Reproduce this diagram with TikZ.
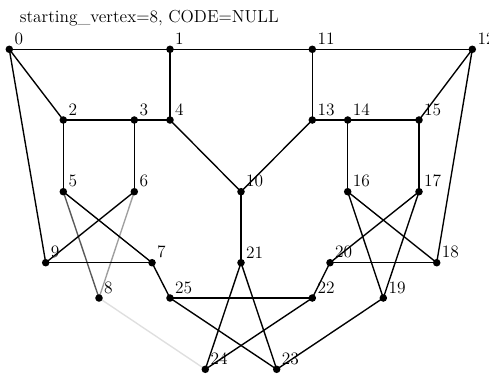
\documentclass[tikz,border=0pt]{standalone}
\begin{document}
\begin{tikzpicture}[x=0.69pt,y=-0.69pt,
  vtx/.style={circle,fill=black,inner sep=0pt,minimum size=5.2pt},
  lbl/.style={anchor=south west,inner sep=0pt,xshift=3.4pt,yshift=3pt,font=\large},
  edge/.style={line width=0.95pt,black}]
\useasboundingbox (0,0) rectangle (489,374);
\node[anchor=base west,inner sep=0pt,font=\large] (title) at (19.5,22.7) {starting\_vertex=8, CODE=NULL};
\foreach \n/\x/\y in {0/9.3/49.3,1/170/49.3,11/312.3/49.3,12/472.3/49.3,
  2/63.3/120,3/134.3/120,4/170/120,13/312.3/120,14/347.7/120,15/419/120,
  5/63.3/191.7,6/134.3/191.7,10/241/191.7,16/347.7/191.7,17/419/191.7,
  9/45.7/262.7,7/152/262.7,21/241/262.7,20/330/262.7,18/436.7/262.7,
  8/99/298,25/170/298,22/312.3/298,19/383.3/298,
  24/205.3/369.3,23/276.7/369.3}{
  \coordinate (v\n) at (\x,\y);
}
\draw[gray!25,line width=0.95pt] (v8) -- (v24);
\draw[gray!70!black,line width=0.95pt] (v5) -- (v8);
\draw[gray!75,line width=0.95pt] (v6) -- (v8);
\foreach \a/\b in {0/1,1/11,11/12,0/2,0/9,1/4,11/13,12/15,12/18,2/3,3/4,2/5,3/6,4/10,13/10,13/14,14/15,14/16,15/17,10/21,5/7,6/9,9/7,7/25,25/22,21/24,21/23,22/24,25/23,19/23,16/18,16/19,17/19,17/20,20/18,20/22}{
  \draw[edge] (v\a) -- (v\b);
}
\foreach \n in {0,1,2,3,4,5,6,7,8,9,10,11,12,13,14,15,16,17,18,19,20,21,22,23,24,25}{
  \node[vtx] (n\n) at (v\n) {};
  \node[lbl] (l\n) at (v\n) {\n};
}
\end{tikzpicture}
\end{document}
